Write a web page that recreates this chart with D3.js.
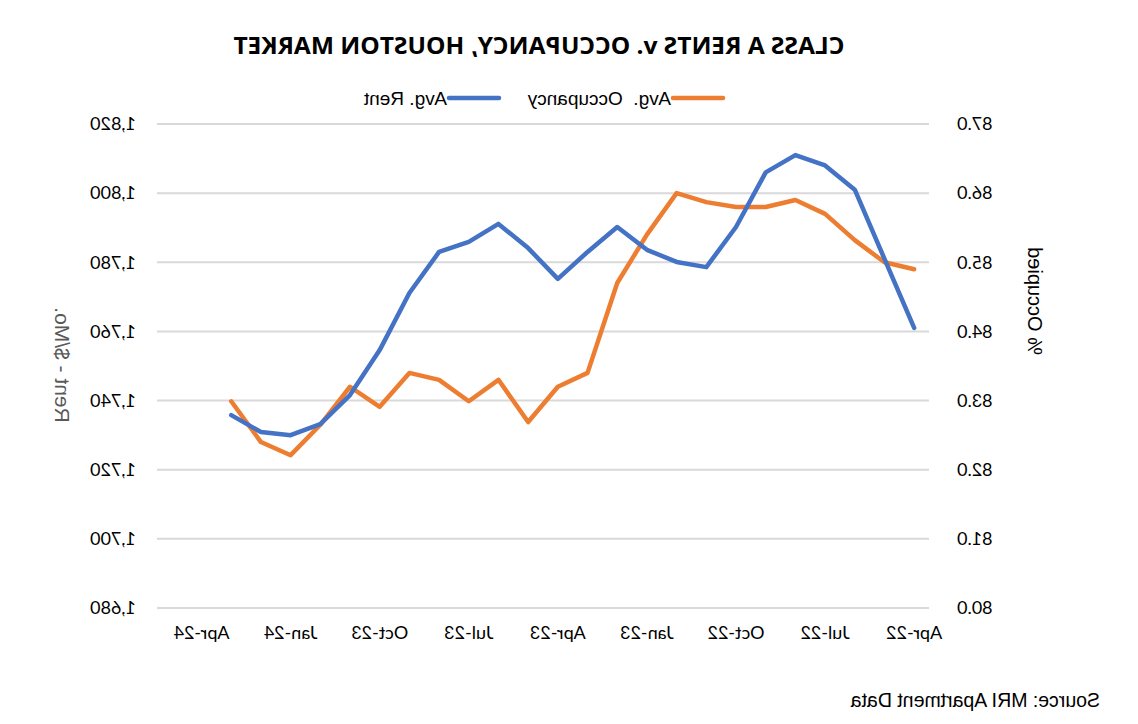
<!DOCTYPE html>
<html>
<head>
<meta charset="utf-8">
<script src="https://cdn.jsdelivr.net/npm/d3@7"></script>
<style>
  body { margin: 0; background: #fff; }
  svg { display: block; }
</style>
</head>
<body>
<div id="chart"></div>
<script>
// monthly categories on the axis (last two carry no data)
var months = ['Apr-22','May-22','Jun-22','Jul-22','Aug-22','Sep-22','Oct-22','Nov-22','Dec-22',
              'Jan-23','Feb-23','Mar-23','Apr-23','May-23','Jun-23','Jul-23','Aug-23','Sep-23',
              'Oct-23','Nov-23','Dec-23','Jan-24','Feb-24','Mar-24','Apr-24','May-24'];
var tickMonths = ['Apr-22','Jul-22','Oct-22','Jan-23','Apr-23','Jul-23','Oct-23','Jan-24','Apr-24'];

// Avg. Rent, $/mo (Apr-22 .. Mar-24)
var avgRent = [1761.0, 1781.0, 1801.0, 1808.0, 1811.0, 1806.0, 1790.2, 1778.6, 1780.1, 1783.6,
               1790.2, 1783.0, 1775.2, 1784.1, 1791.1, 1785.9, 1783.0, 1771.1, 1754.6, 1741.6,
               1733.2, 1730.0, 1730.9, 1735.8];
// Avg. Occupancy, % (Apr-22 .. Mar-24)
var avgOcc = [84.90, 85.00, 85.32, 85.70, 85.90, 85.80, 85.80, 85.87, 86.00, 85.40,
              84.70, 83.40, 83.20, 82.69, 83.30, 82.99, 83.30, 83.40, 82.91, 83.20,
              82.65, 82.21, 82.40, 82.99];

var rentTicks = [1680, 1700, 1720, 1740, 1760, 1780, 1800, 1820];
var occTicks = [80, 81, 82, 83, 84, 85, 86, 87];

var W = 1138, H = 724;
var plot = { left: 209, right: 981, top: 124, bottom: 608 };
var blue = '#4472C4', orange = '#ED7D31';
var sans = '"Liberation Sans", Arial, sans-serif';

var svg = d3.select('#chart').append('svg')
  .attr('width', W).attr('height', H);

// the whole chart is shown mirrored left-to-right
var g = svg.append('g')
  .attr('transform', 'translate(' + W + ',0) scale(-1,1)');

var x = d3.scaleBand().domain(months).range([plot.left, plot.right]).padding(0);
var yRent = d3.scaleLinear().domain([1680, 1820]).range([plot.bottom, plot.top]);
var yOcc = d3.scaleLinear().domain([80, 87]).range([plot.bottom, plot.top]);
var cx = function(m) { return x(m) + x.bandwidth() / 2; };

// gridlines
g.append('g').selectAll('line')
  .data(rentTicks).enter()
  .append('line')
    .attr('x1', plot.left).attr('x2', plot.right)
    .attr('y1', yRent).attr('y2', yRent)
    .attr('stroke', '#d9d9d9').attr('stroke-width', 2);

// occupancy axis (left when unmirrored)
var occAxis = g.append('g')
  .attr('transform', 'translate(' + (plot.left - 28) + ',0)')
  .call(d3.axisLeft(yOcc).tickValues(occTicks).tickSize(0).tickPadding(0)
    .tickFormat(d3.format('.1f')));
occAxis.select('.domain').remove();
occAxis.selectAll('text')
  .attr('font-family', 'Lato, "Liberation Sans", sans-serif')
  .attr('font-size', 18).attr('fill', '#000');

// rent axis (right when unmirrored)
var rentAxis = g.append('g')
  .attr('transform', 'translate(' + (plot.right + 21) + ',0)')
  .call(d3.axisRight(yRent).tickValues(rentTicks).tickSize(0).tickPadding(0)
    .tickFormat(d3.format(',')));
rentAxis.select('.domain').remove();
rentAxis.selectAll('text')
  .attr('font-family', 'Lato, "Liberation Sans", sans-serif')
  .attr('font-size', 18).attr('fill', '#000');

// category axis
var xAxis = g.append('g')
  .attr('transform', 'translate(0,' + (plot.bottom + 18) + ')')
  .call(d3.axisBottom(x).tickValues(tickMonths).tickSize(0).tickPadding(0));
xAxis.select('.domain').remove();
xAxis.selectAll('text')
  .attr('font-family', 'Lato, "Liberation Sans", sans-serif')
  .attr('font-size', 18).attr('fill', '#000');

// lines
var rentLine = d3.line()
  .x(function(d, i) { return cx(months[i]); })
  .y(function(d) { return yRent(d); });
var occLine = d3.line()
  .x(function(d, i) { return cx(months[i]); })
  .y(function(d) { return yOcc(d); });

g.append('path').datum(avgOcc)
  .attr('d', occLine)
  .attr('fill', 'none').attr('stroke', orange).attr('stroke-width', 4.5)
  .attr('stroke-linejoin', 'round').attr('stroke-linecap', 'round');

g.append('path').datum(avgRent)
  .attr('d', rentLine)
  .attr('fill', 'none').attr('stroke', blue).attr('stroke-width', 4.5)
  .attr('stroke-linejoin', 'round').attr('stroke-linecap', 'round');

// axis titles
g.append('text')
  .attr('transform', 'translate(103,301) rotate(-90)')
  .attr('text-anchor', 'middle').attr('dominant-baseline', 'central')
  .attr('font-family', sans)
  .attr('font-size', 20).attr('fill', '#000')
  .text('% Occupied');

g.append('text')
  .attr('transform', 'translate(1076,365) rotate(-90)')
  .attr('text-anchor', 'middle').attr('dominant-baseline', 'central')
  .attr('font-family', sans)
  .attr('font-size', 21).attr('fill', '#595959')
  .text('Rent - $/Mo.');

// title
g.append('text')
  .attr('x', 599).attr('y', 54)
  .attr('text-anchor', 'middle')
  .attr('font-family', '"Open Sans", sans-serif')
  .attr('font-weight', 'bold').attr('font-size', 24)
  .attr('textLength', 611).attr('lengthAdjust', 'spacingAndGlyphs')
  .attr('fill', '#000')
  .text('CLASS A RENTS v. OCCUPANCY, HOUSTON MARKET');

// legend
var legendItems = [
  { label: 'Avg.  Occupancy', color: orange, x: 415 },
  { label: 'Avg. Rent', color: blue, x: 639 }
];
var legend = g.append('g').selectAll('g')
  .data(legendItems).enter()
  .append('g')
    .attr('transform', function(d) { return 'translate(' + d.x + ',98)'; });
legend.append('line')
  .attr('x1', 0).attr('x2', 50).attr('y1', 0).attr('y2', 0)
  .attr('stroke', function(d) { return d.color; })
  .attr('stroke-width', 4.5).attr('stroke-linecap', 'round');
legend.append('text')
  .attr('x', 52).attr('y', 0).attr('dy', '0.35em')
  .style('white-space', 'pre')
  .attr('font-family', sans)
  .attr('font-size', 19).attr('fill', '#000')
  .text(function(d) { return d.label; });

// source note
g.append('text')
  .attr('x', 38).attr('y', 707)
  .attr('font-family', sans)
  .attr('font-size', 19.5).attr('fill', '#000')
  .text('Source: MRI Apartment Data');
</script>
</body>
</html>
